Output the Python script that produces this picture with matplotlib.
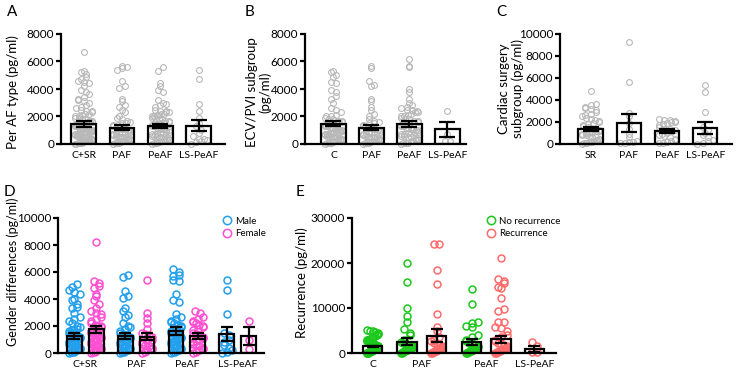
import numpy as np
import matplotlib
matplotlib.use("Agg")
import matplotlib.pyplot as plt
from matplotlib.lines import Line2D

plt.rcParams['font.family'] = ['Lato', 'DejaVu Sans']

# ---- panel A: per AF type ----
a_groups = ['C+SR', 'PAF', 'PeAF', 'LS-PeAF']
a_mean = [1460, 1200, 1320, 1340]
a_sem = [190, 210, 150, 420]
a_csr = [6700, 5300, 5200, 5100, 4900, 4700, 4600, 4500, 4400, 4200, 3900, 3800, 3600, 3400,
         3300, 3200, 3100, 3000, 2800, 2700, 2600, 2500, 2400, 2400, 2300, 2200, 2200, 2100,
         2000, 2000, 1900, 1900, 1800, 1800, 1700, 1700, 1600, 1600, 1600, 1500, 1500, 1500,
         1400, 1400, 1400, 1300, 1300, 1300, 1200, 1200, 1200, 1200, 1100, 1100, 1100, 1000,
         1000, 1000, 1000, 950, 900, 900, 900, 850, 800, 800, 800, 750, 700, 700, 700, 650,
         600, 600, 600, 550, 500, 500, 500, 450, 400, 400, 400, 350, 300, 300, 300, 250, 200,
         200, 200, 150, 100, 100, 50, 50, 0, 0]
a_paf = [5700, 5600, 5500, 5400, 4600, 4200, 4100, 3300, 3100, 2800, 2700, 2500, 2300, 2000,
         1900, 1800, 1700, 1600, 1500, 1500, 1400, 1400, 1300, 1200, 1200, 1100, 1100, 1000,
         1000, 900, 900, 850, 800, 800, 700, 700, 650, 600, 600, 500, 500, 450, 400, 400, 350,
         300, 300, 250, 200, 200, 150, 100, 100, 50, 0]
a_peaf = [5600, 5300, 4400, 4200, 3900, 3800, 3200, 3000, 2900, 2800, 2700, 2500, 2400, 2400,
          2300, 2300, 2200, 2200, 2100, 2100, 2000, 2000, 1900, 1900, 1800, 1800, 1700, 1700,
          1600, 1500, 1500, 1400, 1400, 1300, 1300, 1200, 1200, 1100, 1100, 1000, 1000, 900,
          900, 800, 800, 750, 700, 700, 600, 600, 550, 500, 500, 400, 400, 350, 300, 300, 250,
          200, 200, 150, 100, 100, 50, 0]
a_ls = [5350, 4700, 2900, 2400, 1900, 1500, 1300, 1000, 800, 600, 400, 350, 300, 250, 150, 0]

# ---- panel B: ECV/PVI subgroup ----
b_groups = ['C', 'PAF', 'PeAF', 'LS-PeAF']
b_mean = [1470, 1200, 1470, 1060]
b_sem = [190, 210, 200, 570]
b_c = [5300, 5200, 5000, 4900, 4500, 4400, 3900, 3800, 3500, 3300, 3000, 2600, 2500, 2300,
       2100, 2000, 2000, 1900, 1800, 1800, 1700, 1700, 1600, 1600, 1500, 1500, 1500, 1400,
       1400, 1300, 1300, 1300, 1200, 1200, 1200, 1100, 1100, 1000, 1000, 1000, 950, 900, 900,
       850, 800, 800, 750, 700, 700, 650, 600, 600, 550, 500, 500, 450, 400, 400, 350, 300,
       300, 250, 200, 200, 150, 100, 100, 50, 0]
b_paf = [5700, 5500, 4600, 4300, 4200, 3300, 3100, 2700, 2500, 2200, 2000, 1800, 1700, 1600,
         1500, 1500, 1400, 1300, 1300, 1200, 1200, 1100, 1100, 1000, 1000, 900, 900, 850, 800,
         800, 700, 700, 650, 600, 600, 500, 500, 450, 400, 400, 350, 300, 300, 250, 200, 200,
         150, 100, 100, 50, 0]
b_peaf = [6200, 5700, 5600, 4000, 3800, 3300, 3000, 2800, 2700, 2600, 2500, 2500, 2400, 2300,
          2300, 2200, 2100, 2000, 2000, 1900, 1800, 1800, 1700, 1700, 1600, 1500, 1500, 1400,
          1400, 1300, 1300, 1200, 1200, 1100, 1100, 1000, 1000, 900, 900, 800, 800, 700, 700,
          600, 600, 500, 500, 400, 400, 300, 300, 200, 200, 100, 100, 50, 0]
b_ls = [2400, 700, 200, 200]

# ---- panel C: cardiac surgery subgroup ----
c_groups = ['SR', 'PAF', 'PeAF', 'LS-PeAF']
c_mean = [1320, 1920, 1170, 1470]
c_sem = [180, 830, 150, 520]
c_sr = [4800, 3600, 3500, 3400, 3300, 3200, 3100, 2900, 2700, 2600, 2500, 2400, 2300, 2200,
        2100, 2000, 1900, 1800, 1700, 1600, 1500, 1400, 1300, 1200, 1200, 1100, 1000, 1000,
        900, 800, 800, 700, 600, 600, 500, 400, 400, 300, 300, 200, 200, 150, 100, 100, 50, 0]
c_paf = [9300, 5600, 2800, 2500, 1900, 1400, 900, 600, 300, 200, 150, 100, 50]
c_peaf = [2300, 2200, 2200, 2100, 2000, 2000, 1900, 1800, 1700, 1500, 1400, 1400, 1300, 1200,
          1000, 900, 800, 700, 600, 500, 400, 300, 200, 100, 50]
c_ls = [5400, 4700, 2900, 1500, 1300, 1000, 800, 600, 400, 300, 100, 0]

# ---- panel D: gender differences ----
d_groups = ['C+SR', 'PAF', 'PeAF', 'LS-PeAF']
d_male_mean = [1280, 1260, 1630, 1380]
d_male_sem = [220, 200, 270, 520]
d_female_mean = [1750, 1210, 1240, 1260]
d_female_sem = [240, 280, 220, 680]
d_male = [
    [5100, 4900, 4700, 4500, 4400, 4000, 3900, 3600, 3400, 3300, 3000, 2700, 2500, 2400, 2200,
     2000, 1900, 1800, 1700, 1700, 1600, 1500, 1500, 1400, 1400, 1300, 1300, 1200, 1200, 1100,
     1100, 1000, 1000, 900, 900, 800, 800, 700, 700, 600, 600, 500, 500, 400, 400, 300, 300,
     200, 200, 100, 100, 50, 0],
    [5800, 5600, 4600, 4200, 4100, 3300, 3100, 2800, 2700, 2200, 2000, 1900, 1800, 1600, 1500,
     1400, 1300, 1200, 1200, 1100, 1000, 1000, 900, 800, 800, 700, 600, 600, 500, 400, 400,
     300, 200, 200, 100, 50, 0],
    [6200, 6000, 5800, 5700, 5400, 5300, 4400, 3900, 3800, 2900, 2700, 2500, 2400, 2300, 2200,
     2100, 2000, 1900, 1800, 1800, 1700, 1600, 1500, 1500, 1400, 1300, 1300, 1200, 1100, 1100,
     1000, 1000, 900, 800, 800, 700, 600, 600, 500, 400, 400, 300, 200, 200, 100, 50, 0],
    [5400, 4700, 2900, 1500, 1300, 1000, 800, 600, 400, 200, 100, 0],
]
d_female = [
    [8200, 5300, 5200, 5000, 4800, 4400, 4200, 3900, 3600, 3300, 3100, 3000, 2900, 2700, 2500,
     2400, 2200, 2100, 2000, 2000, 1900, 1800, 1800, 1700, 1600, 1500, 1500, 1400, 1300, 1300,
     1200, 1100, 1100, 1000, 900, 900, 800, 700, 700, 600, 500, 500, 400, 300, 300, 200, 100,
     100, 0],
    [5400, 3000, 2600, 2200, 1800, 1500, 1400, 1300, 1200, 1000, 900, 800, 700, 600, 500, 400,
     300, 300, 200, 100, 0],
    [3100, 3000, 2700, 2500, 2400, 2300, 2200, 2100, 2000, 1900, 1800, 1700, 1500, 1400, 1300,
     1200, 1100, 1000, 900, 800, 700, 600, 500, 400, 300, 200, 100, 0],
    [2400, 1000, 300],
]

# ---- panel E: recurrence ----
e_labels = ['C', 'PAF', 'PeAF', 'LS-PeAF']
e_bar_group = ['no', 'no', 'yes', 'no', 'yes', 'yes']   # no = no recurrence, yes = recurrence
e_mean = [1450, 2520, 3850, 2520, 3040, 960]
e_sem = [150, 750, 1450, 700, 750, 650]
e_points = [
    [5200, 5000, 4800, 4600, 4400, 4200, 4000, 3800, 3600, 3400, 3200, 3000, 2900, 2800, 2700,
     2600, 2500, 2400, 2300, 2200, 2100, 2000, 1900, 1800, 1800, 1700, 1600, 1600, 1500, 1400,
     1400, 1300, 1200, 1200, 1100, 1000, 1000, 900, 900, 800, 800, 700, 700, 600, 600, 500,
     500, 400, 400, 300, 300, 200, 200, 100, 100, 50, 0, 0],
    [20000, 15800, 10100, 8300, 7000, 5400, 4400, 4000, 3000, 2500, 2200, 2000, 1800, 1600,
     1500, 1400, 1300, 1200, 1100, 1000, 900, 800, 800, 700, 600, 500, 400, 300, 200, 100, 0],
    [24300, 24200, 18500, 15400, 8700, 5800, 4800, 3500, 3000, 2600, 2200, 2000, 1800, 1600,
     1400, 1200, 1000, 900, 800, 700, 600, 500, 400, 300, 200, 100, 0],
    [14300, 10800, 7000, 6600, 6000, 5700, 4100, 3600, 3000, 2600, 2200, 2000, 1800, 1600,
     1400, 1200, 1000, 900, 800, 700, 600, 500, 400, 300, 200, 100, 0],
    [21100, 16500, 16000, 15500, 14600, 14400, 12200, 9700, 9300, 7000, 6900, 5700, 5600,
     4800, 4000, 3500, 3000, 2600, 2200, 2000, 1800, 1600, 1400, 1200, 1000, 900, 800, 700,
     600, 500, 400, 300, 200, 100, 0],
    [2400, 1500, 300, 200],
]

GRAY = '#b8b8b8'
BLUE = '#22a0ee'
PINK = '#ff4fd2'
GREEN = '#1cc81c'
RED = '#ff6b6b'

fig = plt.figure(figsize=(7.37, 3.74), dpi=100)
W, H = 737, 374


def px_axes(x0, y0, x1, y1):
    return fig.add_axes([x0 / W, 1 - y1 / H, (x1 - x0) / W, (y1 - y0) / H])


def swarm(ax, xc, vals, row_h, halfw, step, color, ms, lw):
    rows = {}
    for v in sorted(vals):
        rows.setdefault(int(v // row_h), []).append(v)
    for k, vs in rows.items():
        n = len(vs)
        if n == 1:
            xs = [xc]
        else:
            spread = min(halfw, (n - 1) * step / 2)
            xs = np.linspace(-spread, spread, n) + xc
            if k % 2:
                xs = xs[::-1]
        ax.plot(xs, vs, 'o', mfc='none', mec=color, ms=ms, mew=lw,
                zorder=2, clip_on=False)


def bars(ax, x, means, sems, width, cap):
    ax.bar(x, means, width, color='white', edgecolor='none', zorder=1)
    ax.bar(x, means, width, fill=False, edgecolor='black', lw=1.6, zorder=3)
    ax.errorbar(x, means, yerr=sems, fmt='none', ecolor='black', elinewidth=1.6,
                capsize=cap, capthick=1.6, zorder=4)


def style(ax, ymax, ystep, xlim, xt, xl):
    ax.set_xlim(*xlim)
    ax.set_ylim(0, ymax)
    ax.set_yticks(np.arange(0, ymax + 1, ystep))
    ax.set_xticks(xt)
    ax.set_xticklabels(xl)
    for s in ['top', 'right']:
        ax.spines[s].set_visible(False)
    for s in ['left', 'bottom']:
        ax.spines[s].set_linewidth(1.6)
    ax.tick_params(axis='y', length=3.5, width=1.6, labelsize=8.5, pad=1.5)
    ax.tick_params(axis='x', length=0, labelsize=7.5, pad=5)


def ylab(x, y, s, size=9.5):
    fig.text(x / W, 1 - y / H, s, rotation=90, ha='center', va='center',
             fontsize=size, multialignment='center', linespacing=1.05)


def letter(x, y, s):
    fig.text(x / W, 1 - y / H, s, ha='center', va='center', fontsize=11)


# A
ax = px_axes(61, 34, 225, 144)
x4 = np.arange(4)
bars(ax, x4, a_mean, a_sem, 0.64, 6)
for xi, pts in zip(x4, [a_csr, a_paf, a_peaf, a_ls]):
    swarm(ax, xi, pts, 330, 0.22, 0.14, GRAY, 4.2, 0.8)
style(ax, 8000, 2000, (-0.59, 3.69), x4, a_groups)
ylab(13, 92, 'Per AF type (pg/ml)')
letter(12, 12, 'A')

# B
ax = px_axes(305, 34, 466, 144)
bars(ax, x4, b_mean, b_sem, 0.66, 6)
for xi, pts in zip(x4, [b_c, b_paf, b_peaf, b_ls]):
    swarm(ax, xi, pts, 330, 0.23, 0.14, GRAY, 4.2, 0.8)
style(ax, 8000, 2000, (-0.75, 3.49), x4, b_groups)
ylab(259, 92, 'ECV/PVI subgroup\n(pg/ml)')
letter(249, 12, 'B')

# C
ax = px_axes(560, 34, 732, 144)
bars(ax, x4, c_mean, c_sem, 0.64, 6)
for xi, pts in zip(x4, [c_sr, c_paf, c_peaf, c_ls]):
    swarm(ax, xi, pts, 420, 0.22, 0.14, GRAY, 4.2, 0.8)
style(ax, 10000, 2000, (-0.8, 3.7), x4, c_groups)
ylab(511, 89, 'Cardiac surgery\nsubgroup (pg/ml)')
letter(501, 12, 'C')

# D
ax = px_axes(58, 218, 264, 353)
off = 0.215
bars(ax, x4 - off, d_male_mean, d_male_sem, 0.29, 4)
bars(ax, x4 + off, d_female_mean, d_female_sem, 0.29, 4)
for xi in x4:
    swarm(ax, xi - off, d_male[xi], 400, 0.1, 0.1, BLUE, 5.0, 1.1)
    swarm(ax, xi + off, d_female[xi], 400, 0.1, 0.1, PINK, 5.0, 1.1)
style(ax, 10000, 2000, (-0.54, 3.52), x4, d_groups)
ylab(13, 272, 'Gender differences (pg/ml)', 9)
letter(9, 192, 'D')
handles = [Line2D([], [], ls='none', marker='o', mfc='none', mec=c, ms=6, mew=1.1)
           for c in (BLUE, PINK)]
ax.legend(handles, ['Male', 'Female'], loc='upper left', bbox_to_anchor=(0.77, 1.06),
          frameon=False, fontsize=7, handlelength=0.8, handletextpad=0.4,
          labelspacing=0.35, borderpad=0.2)

# E
ax = px_axes(352, 218, 556, 353)
e_x = np.array([0, 1.17, 2.17, 3.36, 4.36, 5.49])
e_tick = [0, 1.67, 3.86, 5.49]
bars(ax, e_x, e_mean, e_sem, 0.66, 4)
for xi, g, pts in zip(e_x, e_bar_group, e_points):
    swarm(ax, xi, pts, 1450, 0.2, 0.2, GREEN if g == 'no' else RED, 5.0, 1.1)
style(ax, 30000, 10000, (-0.695, 6.22), e_tick, e_labels)
ylab(302, 283, 'Recurrence (pg/ml)')
letter(300, 192, 'E')
handles = [Line2D([], [], ls='none', marker='o', mfc='none', mec=c, ms=6, mew=1.1)
           for c in (GREEN, RED)]
ax.legend(handles, ['No recurrence', 'Recurrence'], loc='upper left',
          bbox_to_anchor=(0.63, 1.06), frameon=False, fontsize=7, handlelength=0.8,
          handletextpad=0.4, labelspacing=0.35, borderpad=0.2)

fig.savefig('out.png', dpi=100)
